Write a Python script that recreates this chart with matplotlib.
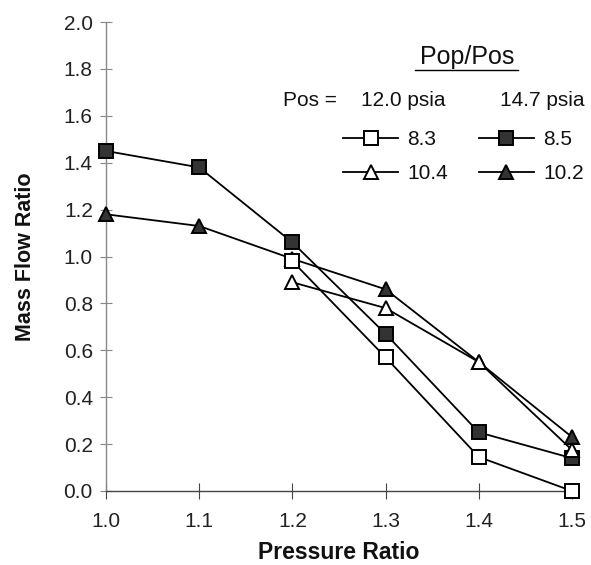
import matplotlib
matplotlib.use("Agg")
import matplotlib.pyplot as plt
from matplotlib.lines import Line2D

plt.rcParams['font.family'] = ['Liberation Sans', 'DejaVu Sans']

pressure_ratio = [1.0, 1.1, 1.2, 1.3, 1.4, 1.5]
pr_low = [1.2, 1.3, 1.4, 1.5]

fs_85 = [1.45, 1.38, 1.06, 0.67, 0.25, 0.14]    # 14.7 psia, 8.5 filled square
ft_102 = [1.18, 1.13, 0.99, 0.86, 0.55, 0.23]   # 14.7 psia, 10.2 filled triangle
os_83 = [0.98, 0.57, 0.145, 0.0]                # 12.0 psia, 8.3 open square
ot_104 = [0.89, 0.78, 0.55, 0.175]              # 12.0 psia, 10.4 open triangle

xticks = [1.0, 1.1, 1.2, 1.3, 1.4, 1.5]
yticks = [0.0, 0.2, 0.4, 0.6, 0.8, 1.0, 1.2, 1.4, 1.6, 1.8, 2.0]

fig = plt.figure(figsize=(5.91, 5.65), dpi=100)
ax = fig.add_axes([106/591, 1-491/565, (572-106)/591, (491-22)/565])

lw = 1.3
style = dict(color='black', lw=lw, markersize=9.5, markeredgewidth=1.4,
             markeredgecolor='black')
ax.plot(pressure_ratio, fs_85, marker='s', markerfacecolor='#333333', clip_on=False, zorder=3, **style)
ax.plot(pressure_ratio, ft_102, marker='^', markerfacecolor='#333333', clip_on=False, zorder=3, **style)
ax.plot(pr_low, os_83, marker='s', markerfacecolor='white', clip_on=False, zorder=3, **style)
ax.plot(pr_low, ot_104, marker='^', markerfacecolor='white', clip_on=False, zorder=3, **style)

ax.set_xlim(1.0, 1.5)
ax.set_ylim(0.0, 2.0)
ax.set_xticks(xticks)
ax.set_xticklabels([f"{v:.1f}" for v in xticks])
ax.set_yticks(yticks)
ax.set_yticklabels([f"{v:.1f}" for v in yticks])

for s in ['top', 'right']:
    ax.spines[s].set_visible(False)
ax.spines['left'].set_color('#888888')
ax.spines['bottom'].set_color('#444444')
ax.spines['left'].set_linewidth(1.0)
ax.spines['bottom'].set_linewidth(1.0)
ax.tick_params(axis='y', direction='inout', length=9, width=0.8, color='#888888',
               labelsize=15, pad=5, labelcolor='#222222')
ax.tick_params(axis='x', direction='inout', length=12, width=0.8, color='#444444',
               labelsize=15, pad=9, labelcolor='#222222')

ax.set_xlabel('Pressure Ratio', fontsize=16.5, fontweight='bold', labelpad=7, color='#111111')
ax.set_ylabel('Mass Flow Ratio', fontsize=15.5, fontweight='bold', labelpad=20, color='#111111')

# Legend title texts
fig.text(467/591, 1-57/565, 'Pop/Pos', fontsize=18, ha='center', va='center', color='#111111')
fig.add_artist(Line2D([415/591, 518/591], [1-70/565, 1-70/565], color='black', lw=1.0))
fig.text(283/591, 1-100/565, 'Pos =', fontsize=15, ha='left', va='center', color='#111111')
fig.text(361/591, 1-100/565, '12.0 psia', fontsize=15, ha='left', va='center', color='#111111')
fig.text(500/591, 1-100/565, '14.7 psia', fontsize=15, ha='left', va='center', color='#111111')

handles = [
    Line2D([], [], marker='s', markerfacecolor='white', **style),
    Line2D([], [], marker='^', markerfacecolor='white', **style),
    Line2D([], [], marker='s', markerfacecolor='#333333', **style),
    Line2D([], [], marker='^', markerfacecolor='#333333', **style),
]
labels = ['8.3', '10.4', '8.5', '10.2']
leg = ax.legend(handles, labels, ncol=2, frameon=False, fontsize=15,
                handlelength=2.64, handletextpad=0.43, columnspacing=1.5,
                labelspacing=0.74, loc='upper left',
                bbox_to_anchor=(343/591, 1-130/565), bbox_transform=fig.transFigure,
                borderaxespad=0, borderpad=0)
for t in leg.get_texts():
    t.set_color('#111111')

fig.savefig('out.png', dpi=100)
